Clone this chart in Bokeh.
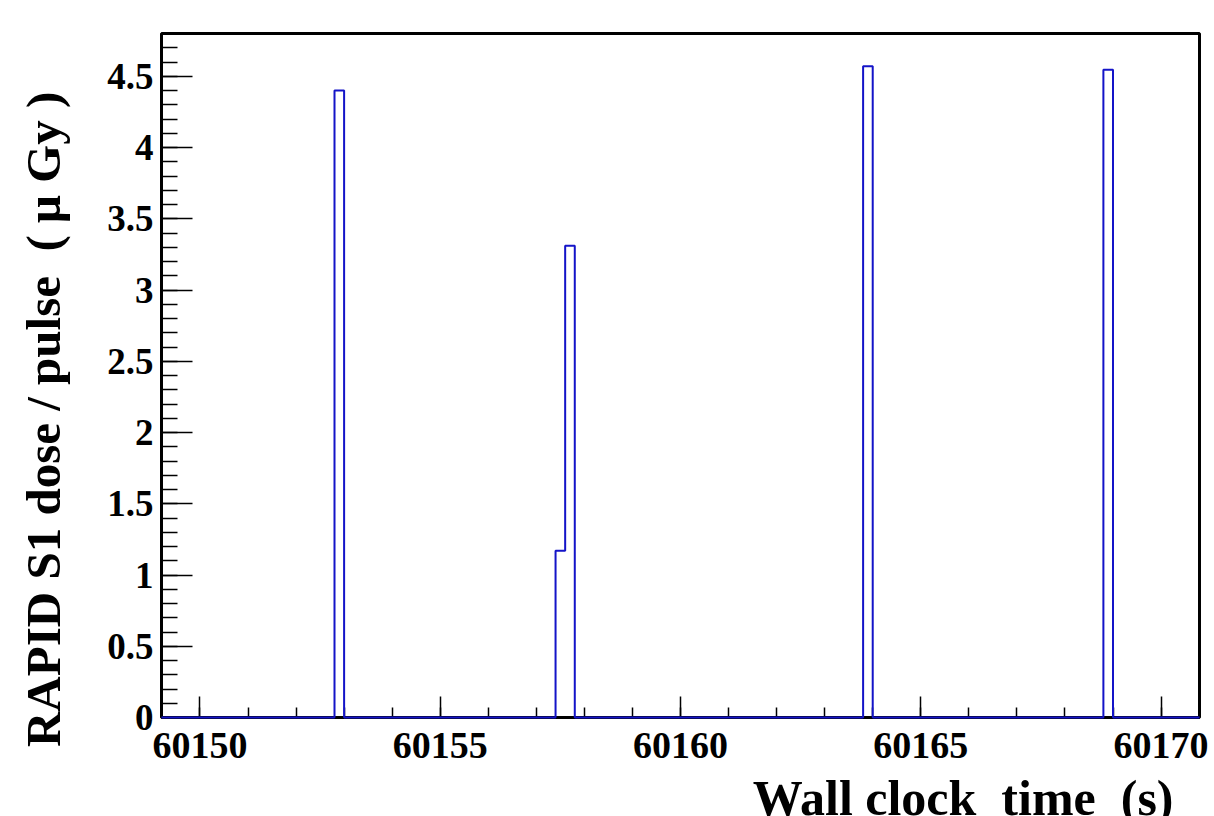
import math
from bokeh.plotting import figure
from bokeh.models import Range1d, FixedTicker, Label
from bokeh.embed import file_html
from bokeh.resources import INLINE

# ---- data ----
x_min = 60149.2
x_max = 60170.8
bin_width = 0.2
pulse_bin_start = [60152.8, 60157.4, 60157.6, 60163.8, 60168.8]
pulse_dose = [4.40, 1.17, 3.31, 4.57, 4.545]
y_max = 4.8

x_tick_values = [60150, 60155, 60160, 60165, 60170]
x_tick_labels = ["60150", "60155", "60160", "60165", "60170"]
x_minor_values = list(range(60150, 60171))
y_tick_values = [0, 0.5, 1, 1.5, 2, 2.5, 3, 3.5, 4, 4.5]
y_tick_labels = ["0", "0.5", "1", "1.5", "2", "2.5", "3", "3.5", "4", "4.5"]
y_minor_values = [round(i * 0.1, 1) for i in range(0, 49)]

x_title = "Wall clock\u00a0 time\u00a0 (s)"
y_title = "RAPID S1 dose / pulse\u00a0 ( \u03bc Gy )"

# ---- build histogram outline ----
n_bins = int(round((x_max - x_min) / bin_width))
counts = [0.0] * n_bins
for s, d in zip(pulse_bin_start, pulse_dose):
    k = int(round((s - x_min) / bin_width))
    counts[k] = d
xs, ys = [], []
for k, c in enumerate(counts):
    lo = x_min + k * bin_width
    hi = lo + bin_width
    xs += [lo, hi]
    ys += [c, c]

W, H = 1214, 816
left, right, top, bottom = 161, 15, 33, 97
frame_w = W - left - right
frame_h = H - top - bottom

p = figure(width=W, height=H, output_backend="svg", toolbar_location=None,
           x_range=Range1d(x_min, x_max), y_range=Range1d(0, y_max),
           min_border_left=left, min_border_right=right,
           min_border_top=top, min_border_bottom=bottom)
p.xgrid.visible = False
p.ygrid.visible = False
p.background_fill_color = "white"
p.border_fill_color = "white"
p.outline_line_color = "black"
p.outline_line_width = 3

r = p.line(xs, ys, line_color="#1414c8", line_width=2)
r.level = "overlay"

font = "Liberation Serif"

xa = p.xaxis[0]
xa.ticker = FixedTicker(ticks=x_tick_values, minor_ticks=x_minor_values)
xa.major_label_overrides = {v: l for v, l in zip(x_tick_values, x_tick_labels)}
xa.major_tick_in = 21
xa.major_tick_out = 0
xa.minor_tick_in = 10
xa.minor_tick_out = 0
xa.major_tick_line_width = 1.5
xa.minor_tick_line_width = 1.5
xa.axis_line_width = 2
xa.major_label_text_font = font
xa.major_label_text_font_style = "bold"
xa.major_label_text_font_size = "38px"
xa.major_label_text_color = "black"
xa.major_label_standoff = 15

ya = p.yaxis[0]
ya.ticker = FixedTicker(ticks=y_tick_values, minor_ticks=y_minor_values)
ya.major_label_overrides = {v: l for v, l in zip(y_tick_values, y_tick_labels)}
ya.major_tick_in = 31
ya.major_tick_out = 0
ya.minor_tick_in = 16
ya.minor_tick_out = 0
ya.major_tick_line_width = 1.5
ya.minor_tick_line_width = 1.5
ya.axis_line_width = 2
ya.major_label_text_font = font
ya.major_label_text_font_style = "bold"
ya.major_label_text_font_size = "37px"
ya.major_label_text_color = "black"
ya.major_label_standoff = 8

# pixel -> data helpers for title placement
def px_to_x(px):
    return x_min + (px - left) / frame_w * (x_max - x_min)

def py_to_y(py):
    return (top + frame_h - py) / frame_h * y_max

p.add_layout(Label(x=px_to_x(1173), y=py_to_y(800), text=x_title,
                   text_font=font, text_font_style="bold",
                   text_font_size="50px", text_align="right",
                   text_baseline="alphabetic", text_color="black"), "below")
p.add_layout(Label(x=px_to_x(43), y=py_to_y(420), text=y_title,
                   text_font=font, text_font_style="bold",
                   text_font_size="49px", text_align="center",
                   text_baseline="middle", angle=math.pi / 2,
                   text_color="black"), "left")

open("out.html", "w").write(file_html(p, INLINE))
